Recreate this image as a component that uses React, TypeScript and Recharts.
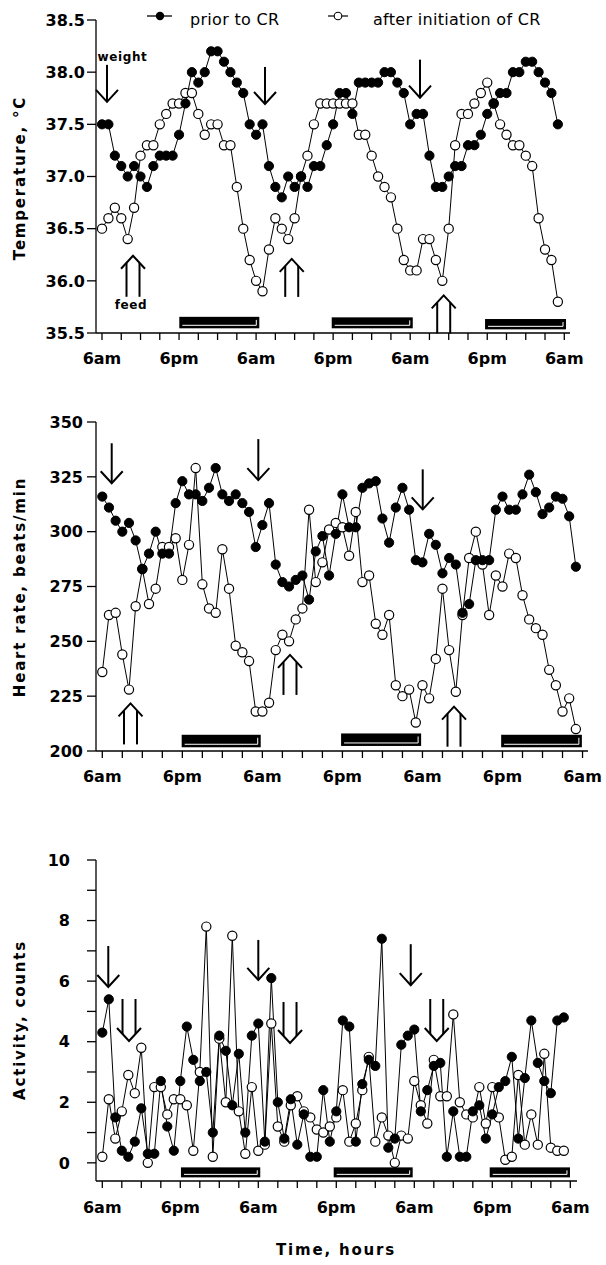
import React from "react";
import { LineChart, Line, XAxis, YAxis, ReferenceArea, ReferenceDot } from "recharts";

// hourly samples, 6am day 1 -> 5am day 4
const HOURS = Array.from({ length: 72 }, (_, i) => i);
const X_TICKS = [0, 3, 6, 9, 12, 15, 18, 21, 24, 27, 30, 33, 36, 39, 42, 45, 48, 51, 54, 57, 60, 63, 66, 69, 72];

const tempPrior = [
  37.5, 37.5, 37.2, 37.1, 37.0, 37.1, 37.0, 36.9, 37.1, 37.2, 37.2, 37.2,
  37.4, 37.7, 38.0, 37.9, 38.0, 38.2, 38.2, 38.1, 38.0, 37.9, 37.8, 37.5,
  37.4, 37.5, 37.1, 36.9, 36.8, 37.0, 36.9, 37.0, 36.9, 37.1, 37.1, 37.3,
  37.5, 37.8, 37.8, 37.6, 37.9, 37.9, 37.9, 37.9, 38.0, 38.0, 37.9, 37.8,
  37.5, 37.6, 37.6, 37.2, 36.9, 36.9, 37.0, 37.1, 37.1, 37.3, 37.3, 37.4,
  37.6, 37.7, 37.8, 37.8, 38.0, 38.0, 38.1, 38.1, 38.0, 37.9, 37.8, 37.5,
];
const tempAfter = [
  36.5, 36.6, 36.7, 36.6, 36.4, 36.7, 37.2, 37.3, 37.3, 37.5, 37.6, 37.7,
  37.7, 37.8, 37.8, 37.6, 37.4, 37.5, 37.5, 37.3, 37.3, 36.9, 36.5, 36.2,
  36.0, 35.9, 36.3, 36.6, 36.5, 36.4, 36.6, 37.0, 37.2, 37.5, 37.7, 37.7,
  37.7, 37.7, 37.7, 37.7, 37.4, 37.4, 37.2, 37.0, 36.9, 36.8, 36.5, 36.2,
  36.1, 36.1, 36.4, 36.4, 36.2, 36.0, 36.5, 37.3, 37.6, 37.6, 37.7, 37.8,
  37.9, 37.7, 37.5, 37.4, 37.3, 37.3, 37.2, 37.1, 36.6, 36.3, 36.2, 35.8,
];
const hrPrior = [
  316, 311, 305, 300, 304, 296, 283, 290, 300, 290, 290, 313,
  323, 317, 317, 314, 320, 329, 317, 314, 317, 313, 309, 293,
  303, 313, 285, 277, 275, 278, 280, 269, 291, 298, 280, 299,
  317, 302, 302, 320, 322, 323, 306, 295, 311, 320, 310, 287,
  286, 299, 294, 281, 288, 285, 263, 267, 287, 287, 287, 310,
  316, 310, 310, 317, 326, 318, 308, 311, 316, 315, 307, 284,
];
const hrAfter = [
  236, 262, 263, 244, 228, 266, 283, 267, 274, 293, 293, 297,
  278, 294, 329, 276, 265, 263, 292, 274, 248, 245, 241, 218,
  218, 222, 246, 253, 250, 260, 265, 310, 277, 286, 301, 304,
  302, 289, 309, 277, 280, 258, 253, 262, 230, 225, 228, 213,
  230, 224, 242, 274, 246, 227, 262, 288, 300, 285, 262, 280,
  275, 290, 288, 271, 260, 256, 253, 237, 230, 218, 224, 210,
];
const actPrior = [
  4.3, 5.4, 1.5, 0.4, 0.2, 0.7, 1.8, 0.3, 0.3, 2.7, 1.2, 0.4,
  2.7, 4.5, 3.4, 2.7, 3.0, 1.0, 4.2, 3.7, 1.9, 3.6, 1.0, 4.2,
  4.6, 0.7, 6.1, 2.0, 0.8, 2.1, 0.6, 1.6, 0.2, 0.2, 2.4, 0.7,
  1.7, 4.7, 4.5, 0.7, 2.6, 3.4, 3.2, 7.4, 0.5, 0.8, 3.9, 4.2,
  4.4, 1.7, 2.4, 3.2, 3.3, 0.2, 1.7, 0.2, 0.2, 1.7, 1.9, 0.8,
  1.6, 2.5, 2.7, 3.5, 0.8, 2.8, 4.7, 3.3, 2.7, 2.3, 4.7, 4.8,
];
const actAfter = [
  0.2, 2.1, 0.8, 1.7, 2.9, 2.3, 3.8, 0.0, 2.5, 2.5, 1.6, 2.1,
  2.1, 1.9, 0.4, 3.0, 7.8, 0.2, 4.1, 2.0, 7.5, 1.7, 0.3, 2.5,
  0.4, 0.6, 4.6, 1.2, 0.7, 1.9, 2.2, 1.7, 1.5, 1.1, 1.0, 1.2,
  1.5, 2.4, 0.7, 1.3, 2.4, 3.5, 0.7, 1.5, 0.9, 0.0, 0.9, 0.8,
  2.7, 1.9, 1.3, 3.4, 2.2, 2.2, 4.9, 2.0, 1.6, 1.5, 2.5, 1.3,
  2.5, 1.5, 0.1, 0.2, 2.9, 0.6, 1.6, 0.6, 3.6, 0.5, 0.4, 0.4,
];

const tempTicks = [35.5, 36, 36.5, 37, 37.5, 38, 38.5];
const hrTicks = [200, 225, 250, 275, 300, 325, 350];
const actTicks = [0, 1, 2, 3, 4, 5, 6, 7, 8, 9, 10];

const tempRows = HOURS.map((h, i) => ({ hour: h, prior: tempPrior[i], after: tempAfter[i] }));
const hrRows = HOURS.map((h, i) => ({ hour: h, prior: hrPrior[i], after: hrAfter[i] }));
const actRows = HOURS.map((h, i) => ({ hour: h, prior: actPrior[i], after: actAfter[i] }));

const FONT = '"DejaVu Sans", Verdana, sans-serif';
const tickStyle = { fontFamily: FONT, fontSize: 16, fontWeight: 700, fill: "#000" };
const titleStyle = { fontFamily: FONT, fontSize: 15, fontWeight: 700, fill: "#000", letterSpacing: 1.8 };
const noteStyle = { fontFamily: FONT, fontSize: 12, fontWeight: 700, fill: "#000", letterSpacing: 0.6 };
const axisLine = { stroke: "#000", strokeWidth: 1.3 };

const priorDot = { r: 4.6, fill: "#000", stroke: "#000", strokeWidth: 1 };
const afterDot = { r: 4.6, fill: "#fff", stroke: "#000", strokeWidth: 1.2 };

const clockLabel = (h: number) => (h % 24 === 0 ? "6am" : h % 24 === 12 ? "6pm" : "");

// black "lights off" bar with the little white inner edge
function DarkBar(props: any) {
  const { x, y, width, height } = props;
  return (
    <g>
      <rect x={x} y={y} width={width} height={height} fill="#000" />
      <polyline
        points={`${x + 3},${y + height - 3} ${x + width - 3},${y + height - 3} ${x + width - 3},${y + 3}`}
        fill="none"
        stroke="#fff"
        strokeWidth={1}
      />
    </g>
  );
}

const downArrow = (len: number) => (p: any) => {
  const { cx, cy } = p;
  return (
    <g stroke="#000" strokeWidth={2} fill="none">
      <line x1={cx} y1={cy} x2={cx} y2={cy + len} />
      <polyline points={`${cx - 11},${cy + len - 12} ${cx},${cy + len} ${cx + 11},${cy + len - 12}`} />
    </g>
  );
};

const doubleUp = (len: number) => (p: any) => {
  const { cx, cy } = p;
  return (
    <g stroke="#000" strokeWidth={2} fill="none">
      <line x1={cx - 6.5} y1={cy + 7} x2={cx - 6.5} y2={cy + len} />
      <line x1={cx + 6.5} y1={cy + 7} x2={cx + 6.5} y2={cy + len} />
      <polyline points={`${cx - 12},${cy + 13} ${cx},${cy} ${cx + 12},${cy + 13}`} />
    </g>
  );
};

const doubleDown = (len: number) => (p: any) => {
  const { cx, cy } = p;
  return (
    <g stroke="#000" strokeWidth={2} fill="none">
      <line x1={cx - 6.5} y1={cy} x2={cx - 6.5} y2={cy + len - 7} />
      <line x1={cx + 6.5} y1={cy} x2={cx + 6.5} y2={cy + len - 7} />
      <polyline points={`${cx - 12},${cy + len - 13} ${cx},${cy + len} ${cx + 12},${cy + len - 13}`} />
    </g>
  );
};

const note = (text: string) => (p: any) => (
  <text x={p.cx} y={p.cy} textAnchor="middle" dominantBaseline="central" style={noteStyle}>
    {text}
  </text>
);

const yTitle = (text: string, cy: number) => ({
  content: () => (
    <text
      x={20}
      y={cy}
      transform={`rotate(-90 20 ${cy})`}
      textAnchor="middle"
      dominantBaseline="central"
      style={titleStyle}
    >
      {text}
    </text>
  ),
});

function Legend() {
  return (
    <svg width={606} height={32} style={{ position: "absolute", top: 0, left: 0 }}>
      <line x1={147} y1={16} x2={172} y2={16} stroke="#000" strokeWidth={1.3} />
      <circle cx={160} cy={16} r={4.2} fill="#000" />
      <text x={190} y={25} style={{ fontFamily: FONT, fontSize: 16, fill: "#000", letterSpacing: 0.3 }}>
        prior to CR
      </text>
      <line x1={328} y1={16} x2={348} y2={16} stroke="#000" strokeWidth={1.2} />
      <circle cx={338} cy={16} r={3.8} fill="#fff" stroke="#000" strokeWidth={1.1} />
      <text x={373} y={25} style={{ fontFamily: FONT, fontSize: 16, fill: "#000", letterSpacing: 0.3 }}>
        after initiation of CR
      </text>
    </svg>
  );
}

export default function App() {
  return (
    <div style={{ position: "relative", width: 606, height: 1265, background: "#fff" }}>
      <style>{`body{margin:0;background:#fff}`}</style>

      {/* Temperature */}
      <div style={{ position: "absolute", top: 0, left: 0 }}>
        <LineChart width={606} height={380} data={tempRows} margin={{ top: 20, right: 36, bottom: 0, left: 0 }}>
          <XAxis
            type="number"
            dataKey="hour"
            domain={[-0.934, 72.89]}
            ticks={X_TICKS}
            interval={0}
            allowDataOverflow
            tickFormatter={clockLabel}
            tick={tickStyle}
            tickSize={7}
            tickMargin={13}
            height={47}
            axisLine={axisLine}
            tickLine={axisLine}
          />
          <YAxis
            type="number"
            domain={[35.5, 38.5]}
            ticks={tempTicks}
            interval={0}
            allowDataOverflow
            tickFormatter={(v: number) => v.toFixed(1)}
            tick={tickStyle}
            tickSize={9}
            tickMargin={2}
            width={96}
            axisLine={axisLine}
            tickLine={axisLine}
            label={yTitle("Temperature, \u00B0C", 178)}
          />
          <ReferenceArea x1={12.04} x2={24.5} y1={35.545} y2={35.655} ifOverflow="visible" shape={DarkBar} />
          <ReferenceArea x1={35.78} x2={48.4} y1={35.545} y2={35.65} ifOverflow="visible" shape={DarkBar} />
          <ReferenceArea x1={59.66} x2={72.27} y1={35.535} y2={35.634} ifOverflow="visible" shape={DarkBar} />

          <Line type="linear" dataKey="after" stroke="#000" strokeWidth={1} dot={afterDot} activeDot={false} isAnimationActive={false} />
          <Line type="linear" dataKey="prior" stroke="#000" strokeWidth={1} dot={priorDot} activeDot={false} isAnimationActive={false} />

          <ReferenceDot x={3.19} y={38.145} shape={note("weight")} />
          <ReferenceDot x={4.52} y={35.77} shape={note("feed")} />
          <ReferenceDot x={0.78} y={38.07} shape={downArrow(37)} />
          <ReferenceDot x={25.39} y={38.05} shape={downArrow(37)} />
          <ReferenceDot x={49.53} y={38.12} shape={downArrow(38)} />
          <ReferenceDot x={4.83} y={36.24} shape={doubleUp(41)} />
          <ReferenceDot x={29.55} y={36.21} shape={doubleUp(38)} />
          <ReferenceDot x={53.22} y={35.86} shape={doubleUp(38)} />
        </LineChart>
      </div>

      {/* Heart rate */}
      <div style={{ position: "absolute", top: 400, left: 0 }}>
        <LineChart width={606} height={398} data={hrRows} margin={{ top: 22, right: 18, bottom: 0, left: 0 }}>
          <XAxis
            type="number"
            dataKey="hour"
            domain={[-0.945, 72.82]}
            ticks={X_TICKS}
            interval={0}
            allowDataOverflow
            tickFormatter={clockLabel}
            tick={tickStyle}
            tickSize={7}
            tickMargin={13}
            height={47}
            axisLine={axisLine}
            tickLine={axisLine}
          />
          <YAxis
            type="number"
            domain={[200, 350]}
            ticks={hrTicks}
            interval={0}
            allowDataOverflow
            tick={tickStyle}
            tickSize={9}
            tickMargin={4}
            width={96}
            axisLine={axisLine}
            tickLine={axisLine}
            label={yTitle("Heart rate, beats/min", 187)}
          />
          <ReferenceArea x1={11.9} x2={23.75} y1={201.7} y2={207.4} ifOverflow="visible" shape={DarkBar} />
          <ReferenceArea x1={35.8} x2={47.8} y1={202.3} y2={208} ifOverflow="visible" shape={DarkBar} />
          <ReferenceArea x1={59.8} x2={71.9} y1={201.7} y2={207.4} ifOverflow="visible" shape={DarkBar} />

          <Line type="linear" dataKey="after" stroke="#000" strokeWidth={1} dot={afterDot} activeDot={false} isAnimationActive={false} />
          <Line type="linear" dataKey="prior" stroke="#000" strokeWidth={1} dot={priorDot} activeDot={false} isAnimationActive={false} />

          <ReferenceDot x={1.41} y={340.3} shape={downArrow(40)} />
          <ReferenceDot x={23.39} y={342.2} shape={downArrow(41)} />
          <ReferenceDot x={48.04} y={328.4} shape={downArrow(40)} />
          <ReferenceDot x={4.23} y={221.7} shape={doubleUp(41)} />
          <ReferenceDot x={28.14} y={243.8} shape={doubleUp(40)} />
          <ReferenceDot x={52.73} y={220.2} shape={doubleUp(40)} />
        </LineChart>
      </div>

      {/* Activity */}
      <div style={{ position: "absolute", top: 840, left: 0 }}>
        <LineChart width={606} height={425} data={actRows} margin={{ top: 20, right: 29, bottom: 0, left: 0 }}>
          <XAxis
            type="number"
            dataKey="hour"
            domain={[-0.969, 73.03]}
            ticks={X_TICKS}
            interval={0}
            allowDataOverflow
            tickFormatter={clockLabel}
            tick={tickStyle}
            tickSize={7}
            tickMargin={14}
            height={84}
            axisLine={axisLine}
            tickLine={axisLine}
            label={{
              content: () => (
                <text x={336} y={410} textAnchor="middle" dominantBaseline="central" style={titleStyle}>
                  Time, hours
                </text>
              ),
            }}
          />
          <YAxis
            type="number"
            domain={[-0.6, 10]}
            ticks={actTicks}
            interval={0}
            allowDataOverflow
            tickFormatter={(v: number) => (v % 2 === 0 ? String(v) : "")}
            tick={tickStyle}
            tickSize={9}
            tickMargin={17}
            width={96}
            axisLine={axisLine}
            tickLine={axisLine}
            label={yTitle("Activity, counts", 180)}
          />
          <ReferenceArea x1={12.1} x2={24.3} y1={-0.48} y2={-0.15} ifOverflow="visible" shape={DarkBar} />
          <ReferenceArea x1={35.6} x2={47.75} y1={-0.48} y2={-0.15} ifOverflow="visible" shape={DarkBar} />
          <ReferenceArea x1={59.6} x2={71.95} y1={-0.48} y2={-0.15} ifOverflow="visible" shape={DarkBar} />

          <Line type="linear" dataKey="after" stroke="#000" strokeWidth={1} dot={afterDot} activeDot={false} isAnimationActive={false} />
          <Line type="linear" dataKey="prior" stroke="#000" strokeWidth={1} dot={priorDot} activeDot={false} isAnimationActive={false} />

          <ReferenceDot x={0.92} y={7.16} shape={downArrow(41)} />
          <ReferenceDot x={24.0} y={7.36} shape={downArrow(40)} />
          <ReferenceDot x={47.45} y={7.22} shape={downArrow(41)} />
          <ReferenceDot x={4.11} y={5.41} shape={doubleDown(42)} />
          <ReferenceDot x={28.88} y={5.31} shape={doubleDown(41)} />
          <ReferenceDot x={51.45} y={5.41} shape={doubleDown(42)} />
        </LineChart>
      </div>

      <Legend />
    </div>
  );
}
